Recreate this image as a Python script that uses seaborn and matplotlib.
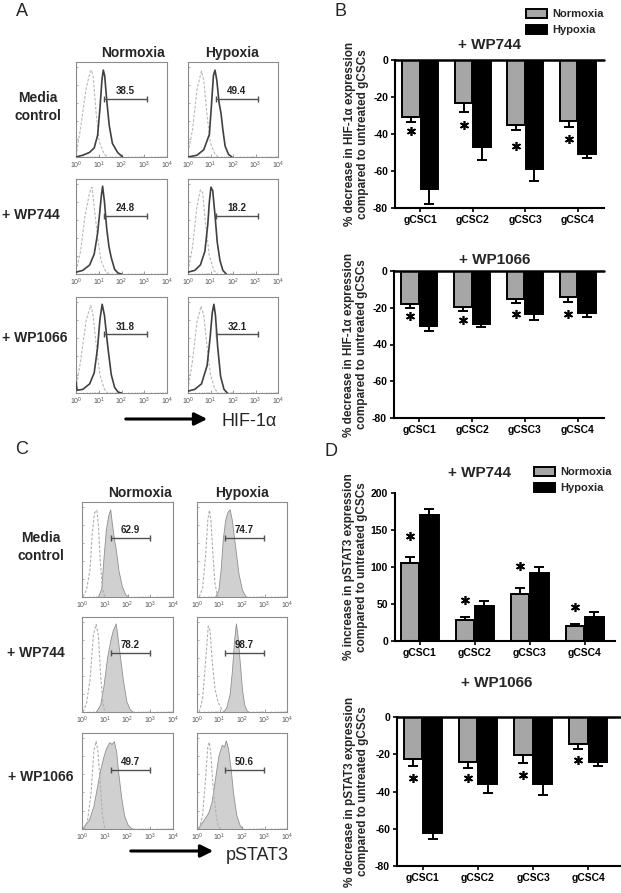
import numpy as np
import pandas as pd
import seaborn as sns
import matplotlib
matplotlib.use("Agg")
import matplotlib.pyplot as plt
from matplotlib.patches import FancyArrowPatch, Patch

# ---------------- data ----------------
groups = ["gCSC1", "gCSC2", "gCSC3", "gCSC4"]
conditions = ["Normoxia", "Hypoxia"]

# Panel B: HIF-1a, % decrease
b744_norm = [-31.0, -23.5, -35.0, -33.0]
b744_norm_err = [2.6, 4.6, 2.6, 3.4]
b744_hyp = [-69.6, -47.2, -59.0, -51.0]
b744_hyp_err = [8.0, 6.7, 6.5, 2.0]
b744_star = [-38.6, -35.0, -46.7, -42.8]

b1066_norm = [-18.1, -19.5, -15.5, -14.1]
b1066_norm_err = [1.9, 2.4, 1.8, 2.9]
b1066_hyp = [-30.0, -28.9, -23.3, -23.1]
b1066_hyp_err = [2.5, 1.4, 3.6, 2.2]
b1066_star = [-24.5, -26.7, -23.3, -23.3]

# Panel D: pSTAT3
d744_norm = [105.9, 28.0, 63.3, 19.9]
d744_norm_err = [8.0, 4.6, 8.7, 3.6]
d744_hyp = [170.0, 47.0, 92.3, 32.6]
d744_hyp_err = [8.7, 7.3, 7.7, 7.2]
d744_star = [142.0, 55.0, 101.0, 46.0]

d1066_norm = [-22.7, -23.9, -20.3, -14.7]
d1066_norm_err = [3.4, 3.3, 4.3, 2.4]
d1066_hyp = [-62.2, -36.1, -36.1, -24.3]
d1066_hyp_err = [3.2, 4.5, 5.7, 1.8]
d1066_star = [-32.9, -32.9, -31.1, -23.0]

# Panel A: HIF-1a flow histograms (log decade, % of max)
hif_norm_media_iso = [(0.03,6),(0.22,35),(0.44,75),(0.62,94),(0.68,96),(0.76,88),(0.88,50),(1.02,17),(1.24,3),(1.4,0)]
hif_norm_media_pos = [(0,0),(0.3,2),(0.59,5),(0.8,10),(0.95,24),(1.05,53),(1.14,85),(1.2,96),(1.26,90),(1.35,63),(1.46,35),(1.6,15),(1.83,5),(2.05,0)]
hif_hyp_media_iso = [(0,5),(0.2,30),(0.4,75),(0.6,95),(0.7,85),(0.85,45),(1.0,15),(1.2,3),(1.35,0)]
hif_hyp_media_pos = [(0,0),(0.4,2),(0.7,8),(0.95,25),(1.05,60),(1.13,90),(1.2,96),(1.28,85),(1.38,60),(1.47,48),(1.55,30),(1.65,12),(1.8,3),(1.95,0)]
hif_norm_wp744_iso = [(0,3),(0.2,25),(0.4,65),(0.6,90),(0.7,96),(0.8,75),(0.95,40),(1.1,15),(1.3,3),(1.45,0)]
hif_norm_wp744_pos = [(0,2),(0.3,4),(0.6,10),(0.8,22),(0.95,45),(1.05,70),(1.12,88),(1.17,97),(1.25,80),(1.35,50),(1.45,30),(1.55,18),(1.7,5),(1.85,1),(2.0,0)]
hif_hyp_wp744_iso = [(0,3),(0.2,30),(0.4,75),(0.55,93),(0.65,90),(0.78,55),(0.95,20),(1.15,4),(1.3,0)]
hif_hyp_wp744_pos = [(0,2),(0.3,4),(0.55,10),(0.75,25),(0.88,55),(0.95,80),(1.02,96),(1.1,92),(1.2,65),(1.3,35),(1.42,15),(1.55,4),(1.7,0)]
hif_norm_wp1066_iso = [(0,5),(0.2,35),(0.45,80),(0.65,96),(0.75,85),(0.9,50),(1.05,20),(1.25,4),(1.4,0)]
hif_norm_wp1066_pos = [(0,12),(0.05,3),(0.3,4),(0.6,10),(0.8,22),(0.95,50),(1.05,80),(1.15,97),(1.25,85),(1.4,50),(1.55,20),(1.7,6),(1.85,1),(2.0,0)]
hif_hyp_wp1066_iso = [(0,4),(0.2,35),(0.4,78),(0.58,95),(0.7,85),(0.85,50),(1.0,20),(1.2,4),(1.35,0)]
hif_hyp_wp1066_pos = [(0,2),(0.3,4),(0.6,10),(0.85,30),(0.98,60),(1.08,88),(1.15,97),(1.22,85),(1.32,50),(1.45,18),(1.6,4),(1.75,0)]
hif_gate_labels = ["38.5", "49.4", "24.8", "18.2", "31.8", "32.1"]
hif_gate = (1.25, 3.1, 64)

# Panel C: pSTAT3 flow histograms
st_norm_media_iso = [(0.05,0),(0.2,8),(0.35,30),(0.45,70),(0.55,93),(0.65,96),(0.72,80),(0.8,40),(0.9,10),(1.0,0)]
st_norm_media_pos = [(0.7,0),(0.85,10),(0.95,45),(1.05,75),(1.15,90),(1.24,97),(1.32,80),(1.4,65),(1.5,50),(1.6,30),(1.75,12),(1.9,3),(2.05,0)]
st_hyp_media_iso = [(0.1,0),(0.25,10),(0.38,45),(0.48,85),(0.55,96),(0.62,85),(0.7,50),(0.8,15),(0.9,2),(0.95,0)]
st_hyp_media_pos = [(0.8,0),(0.95,8),(1.05,30),(1.15,65),(1.25,85),(1.35,94),(1.45,97),(1.55,85),(1.7,55),(1.85,25),(2.0,8),(2.15,1),(2.25,0)]
st_norm_wp744_iso = [(0.05,0),(0.2,10),(0.35,35),(0.5,85),(0.62,97),(0.72,85),(0.82,40),(0.92,10),(1.0,0)]
st_norm_wp744_pos = [(0.6,0),(0.8,8),(0.95,30),(1.1,60),(1.25,80),(1.35,90),(1.48,98),(1.55,85),(1.65,65),(1.8,35),(1.95,12),(2.1,3),(2.25,0)]
st_hyp_wp744_iso = [(0.1,0),(0.25,15),(0.38,55),(0.5,95),(0.58,90),(0.68,55),(0.8,25),(0.95,10),(1.1,3),(1.2,0)]
st_hyp_wp744_pos = [(1.15,0),(1.3,5),(1.45,20),(1.55,45),(1.65,80),(1.73,98),(1.8,85),(1.9,55),(2.0,25),(2.1,8),(2.2,2),(2.3,0)]
st_norm_wp1066_iso = [(0.1,0),(0.25,10),(0.4,40),(0.52,85),(0.62,96),(0.7,85),(0.8,50),(0.9,15),(1.0,0)]
st_norm_wp1066_pos = [(0,0),(0.1,4),(0.3,10),(0.5,25),(0.65,45),(0.8,65),(0.95,80),(1.05,88),(1.2,95),(1.3,93),(1.4,96),(1.5,85),(1.6,60),(1.72,35),(1.85,15),(2.0,5),(2.15,1),(2.3,0)]
st_hyp_wp1066_iso = [(0.1,0),(0.25,15),(0.38,55),(0.48,90),(0.55,95),(0.62,80),(0.72,45),(0.85,15),(0.95,3),(1.05,0)]
st_hyp_wp1066_pos = [(0,0),(0.15,5),(0.35,12),(0.5,18),(0.65,30),(0.8,55),(0.95,80),(1.1,92),(1.2,90),(1.28,97),(1.38,88),(1.5,65),(1.6,40),(1.75,15),(1.9,4),(2.05,0)]
st_gate_labels = ["62.9", "74.7", "78.2", "98.7", "49.7", "50.6"]
st_gate = (1.26, 2.97, 65)

decade_labels = [r"$10^{0}$", r"$10^{1}$", r"$10^{2}$", r"$10^{3}$", r"$10^{4}$"]
row_labels = ["Media\ncontrol", "+ WP744", "+ WP1066"]

# ---------------- style ----------------
sns.set_theme(style="white")
plt.rcParams["font.family"] = ["Liberation Sans", "DejaVu Sans"]
plt.rcParams["mathtext.fontset"] = "custom"
plt.rcParams["mathtext.rm"] = "Liberation Sans"
plt.rcParams["mathtext.it"] = "Liberation Sans:italic"

W, H = 621, 893
fig = plt.figure(figsize=(W / 100, H / 100), dpi=100)
fig.patch.set_facecolor("white")
GRAY = "#a6a6a6"


def px_axes(x0, y0, x1, y1):
    return fig.add_axes([x0 / W, 1 - y1 / H, (x1 - x0) / W, (y1 - y0) / H])


def ftext(x, y, s, **kw):
    fig.text(x / W, 1 - y / H, s, **kw)


# ---------------- flow histograms ----------------
def hist_panel(box, iso, pos, filled, gate, label):
    ax = px_axes(*box)
    ix, iy = zip(*iso)
    sx, sy = zip(*pos)
    if filled:
        ax.fill_between(sx, sy, 0, color="#d0d0d0", edgecolor="#8f8f8f", lw=0.6, zorder=2)
        ax.plot(ix, iy, color="#b0b0b0", lw=0.8, ls=(0, (2.5, 1.5)), zorder=3)
    else:
        ax.plot(ix, iy, color="#b8b8b8", lw=0.8, ls=(0, (2.5, 1.5)), zorder=2)
        ax.plot(sx, sy, color="#404040", lw=1.2, zorder=3)
    g0, g1, gy = gate
    ax.plot([g0, g1], [gy, gy], color="#505050", lw=1.0, zorder=4)
    ax.plot([g0, g1], [gy, gy], ls="none", marker="|", ms=5, mew=1.0, color="#505050", zorder=4)
    ax.text((g0 + g1) / 2, gy + 3, label, ha="center", va="bottom", fontsize=7,
            fontweight="bold", color="#222222")
    ax.set_xlim(0, 4)
    ax.set_ylim(0, 105)
    for s in ax.spines.values():
        s.set_visible(True)
        s.set_color("#8c8c8c")
        s.set_linewidth(0.8)
    ax.set_xticks(range(5))
    ax.set_xticklabels(decade_labels, fontsize=5, color="#555555")
    minors = [d + np.log10(m) for d in range(4) for m in range(2, 10)]
    ax.set_xticks(minors, minor=True)
    ax.set_yticks([0, 20, 40, 60, 80, 100])
    ax.set_yticklabels([])
    ax.tick_params(axis="x", which="major", direction="in", length=2, width=0.6,
                   color="#8c8c8c", pad=2, bottom=True)
    ax.tick_params(axis="x", which="minor", direction="in", length=1, width=0.4,
                   color="#8c8c8c", bottom=True)
    ax.tick_params(axis="y", direction="in", length=1.5, width=0.5, color="#8c8c8c", left=True)
    return ax


hif_sets = [
    (hif_norm_media_iso, hif_norm_media_pos), (hif_hyp_media_iso, hif_hyp_media_pos),
    (hif_norm_wp744_iso, hif_norm_wp744_pos), (hif_hyp_wp744_iso, hif_hyp_wp744_pos),
    (hif_norm_wp1066_iso, hif_norm_wp1066_pos), (hif_hyp_wp1066_iso, hif_hyp_wp1066_pos),
]
st_sets = [
    (st_norm_media_iso, st_norm_media_pos), (st_hyp_media_iso, st_hyp_media_pos),
    (st_norm_wp744_iso, st_norm_wp744_pos), (st_hyp_wp744_iso, st_hyp_wp744_pos),
    (st_norm_wp1066_iso, st_norm_wp1066_pos), (st_hyp_wp1066_iso, st_hyp_wp1066_pos),
]

a_rows = [(62, 157), (179, 274), (297, 393)]
a_cols = [(76, 167), (188, 278)]
c_rows = [(502, 597), (617, 712), (733, 829)]
c_cols = [(82, 173), (197, 287)]

k = 0
for r, (y0, y1) in enumerate(a_rows):
    for c, (x0, x1) in enumerate(a_cols):
        iso, pos = hif_sets[k]
        hist_panel((x0, y0, x1, y1), iso, pos, False, hif_gate, hif_gate_labels[k])
        k += 1
k = 0
for r, (y0, y1) in enumerate(c_rows):
    for c, (x0, x1) in enumerate(c_cols):
        iso, pos = st_sets[k]
        hist_panel((x0, y0, x1, y1), iso, pos, True, st_gate, st_gate_labels[k])
        k += 1

hb = dict(fontsize=10, fontweight="bold", ha="center", va="center")
ftext(133, 53, "Normoxia", **hb)
ftext(232, 53, "Hypoxia", **hb)
ftext(140, 493, "Normoxia", **hb)
ftext(242, 493, "Hypoxia", **hb)
rl = dict(fontsize=10, fontweight="bold", va="center", linespacing=1.3)
ftext(38, 107, row_labels[0], ha="center", **rl)
ftext(2, 215, row_labels[1], ha="left", **rl)
ftext(2, 338, row_labels[2], ha="left", **rl)
ftext(41, 547, row_labels[0], ha="center", **rl)
ftext(7, 653, row_labels[1], ha="left", **rl)
ftext(8, 777, row_labels[2], ha="left", **rl)

for (xa, xb, y) in [(123, 210, 419), (128, 216, 851)]:
    fig.add_artist(FancyArrowPatch((xa / W, 1 - y / H), (xb / W, 1 - y / H),
                                   transform=fig.transFigure, arrowstyle="-|>,head_length=5,head_width=2.5",
                                   lw=2.2, color="black", mutation_scale=1.5))
ftext(221, 421, "HIF-1α", fontsize=13, ha="left", va="center")
ftext(226, 856, "pSTAT3", fontsize=13, ha="left", va="center")

for (x, y, s) in [(22, 12, "A"), (340, 12, "B"), (22, 450, "C"), (331, 452, "D")]:
    ftext(x, y, s, fontsize=13, ha="center", va="center")


# ---------------- bar charts ----------------
def bar_panel(box, xlim, nv, ne, hv, he, stars, ylim, yticks, ylabel, negative):
    ax = px_axes(*box)
    df = pd.DataFrame({
        "line": groups + groups,
        "cond": [conditions[0]] * 4 + [conditions[1]] * 4,
        "val": list(nv) + list(hv),
    })
    sns.barplot(data=df, x="line", y="val", hue="cond", hue_order=conditions,
                palette={"Normoxia": GRAY, "Hypoxia": "black"}, width=0.7, gap=0.05,
                edgecolor="black", linewidth=1.4, errorbar=None, legend=False,
                saturation=1, ax=ax)
    bars = sorted(ax.patches, key=lambda p: p.get_x())
    vals = [v for pair in zip(nv, hv) for v in pair]
    errs = [e for pair in zip(ne, he) for e in pair]
    for p, v, e in zip(bars, vals, errs):
        cx = p.get_x() + p.get_width() / 2
        yerr = [[0], [e]] if v > 0 else [[e], [0]]
        ax.errorbar([cx], [v], yerr=yerr, fmt="none", ecolor="black", elinewidth=1.4,
                    capsize=3.5, capthick=1.4, zorder=1)
    ncenters = [bars[2 * i].get_x() + bars[2 * i].get_width() / 2 for i in range(4)]
    ax.plot(ncenters, stars, ls="none", marker=(6, 2, 0), ms=6.5, mew=1.2, color="black", zorder=5)
    ax.set_xlim(*xlim)
    ax.set_ylim(*ylim)
    ax.set_yticks(yticks)
    ax.set_yticklabels([str(t) for t in yticks], fontsize=7.5, fontweight="bold")
    ax.set_xticks(range(4))
    ax.set_xticklabels(groups, fontsize=7.5, fontweight="bold")
    ax.set_xlabel("")
    ax.set_ylabel(ylabel, fontsize=8.5, fontweight="bold", linespacing=1.1)
    ax.yaxis.set_label_coords(-0.125, 0.5)
    for side in ["top", "right"]:
        ax.spines[side].set_visible(False)
    for side in ["left", "bottom"]:
        ax.spines[side].set_visible(True)
        ax.spines[side].set_color("black")
        ax.spines[side].set_linewidth(1.5)
    if negative:
        ax.axhline(0, color="black", lw=1.8, clip_on=False, zorder=6)
    ax.tick_params(axis="both", direction="out", length=3, width=1.2, color="black",
                   left=True, bottom=True, pad=2, labelcolor="black")
    ax.set_facecolor("none")
    return ax


lab_b = "% decrease in HIF-1α expression\ncompared to untreated gCSCs"
bar_panel((395, 60, 604, 208), (-0.48, 3.5), b744_norm, b744_norm_err, b744_hyp, b744_hyp_err,
          b744_star, (-80, 0), [-80, -60, -40, -20, 0], lab_b, True)
bar_panel((394, 271, 604, 418), (-0.48, 3.5), b1066_norm, b1066_norm_err, b1066_hyp, b1066_hyp_err,
          b1066_star, (-80, 0), [-80, -60, -40, -20, 0], lab_b, True)
bar_panel((395, 493, 615, 641), (-0.45, 3.55), d744_norm, d744_norm_err, d744_hyp, d744_hyp_err,
          d744_star, (0, 200), [0, 50, 100, 150, 200],
          "% increase in pSTAT3 expression\ncompared to untreated gCSCs", False)
bar_panel((397, 717, 620, 866), (-0.47, 3.58), d1066_norm, d1066_norm_err, d1066_hyp, d1066_hyp_err,
          d1066_star, (-80, 0), [-80, -60, -40, -20, 0],
          "% decrease in pSTAT3 expression\ncompared to untreated gCSCs", True)

tb = dict(fontsize=11, fontweight="bold", ha="center", va="center")
ftext(490, 45, "+ WP744", **tb)
ftext(495, 260, "+ WP1066", **tb)
ftext(480, 473, "+ WP744", **tb)
ftext(497, 683, "+ WP1066", **tb)

handles = [Patch(facecolor=GRAY, edgecolor="black", lw=1.4),
           Patch(facecolor="black", edgecolor="black", lw=1.4)]
for (x, y) in [(526, 9), (534, 467)]:
    leg = fig.legend(handles, conditions, loc="upper left", bbox_to_anchor=(x / W, 1 - y / H),
                     frameon=False, prop=dict(size=8, weight="bold"), handlelength=1.9,
                     handleheight=0.8, handletextpad=0.5, borderpad=0, borderaxespad=0,
                     labelspacing=0.55)

fig.savefig("out.png", dpi=100, facecolor="white")
